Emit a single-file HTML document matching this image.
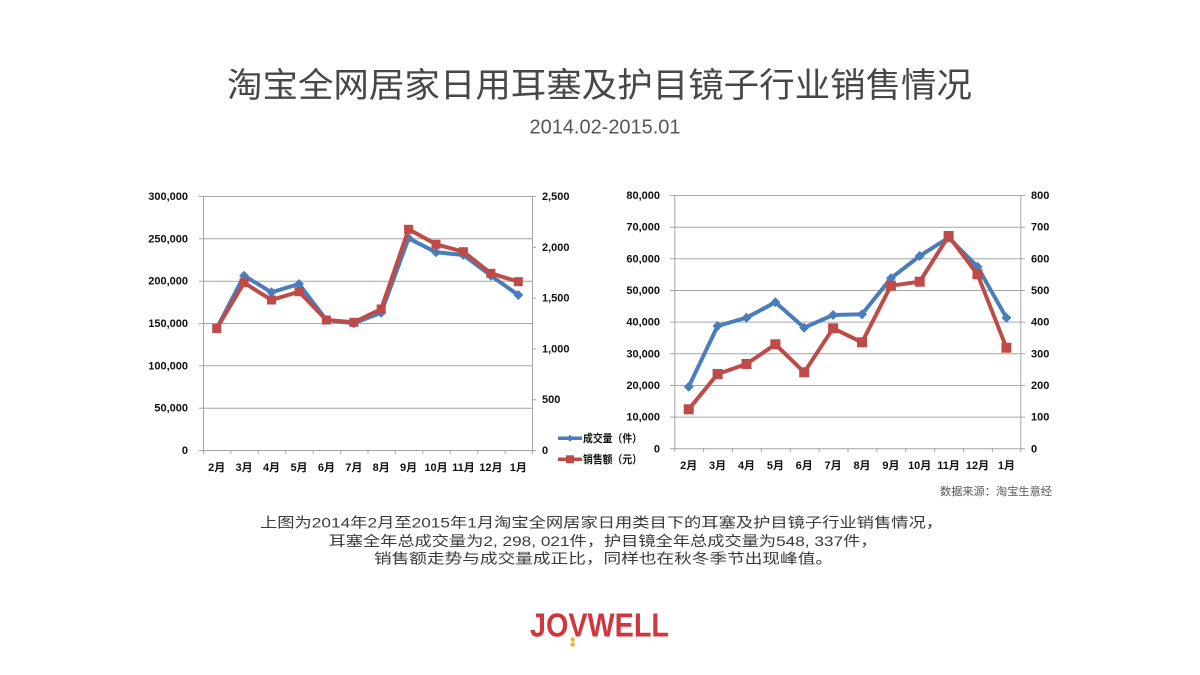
<!DOCTYPE html>
<html><head><meta charset="utf-8"><style>
html,body{margin:0;padding:0;background:#fff;}
svg{display:block;}
.ax{font-family:"Liberation Sans","Noto Sans CJK SC",sans-serif;font-weight:bold;font-size:11px;fill:#111;}
.cj{font-family:"Liberation Sans","Noto Sans CJK SC",sans-serif;}
</style></head><body>
<svg width="1200" height="675" viewBox="0 0 1200 675" xmlns="http://www.w3.org/2000/svg">
<rect width="1200" height="675" fill="#fff"/>
<text class="cj" x="227" y="97" font-size="34" fill="#474747" textLength="745" lengthAdjust="spacingAndGlyphs">淘宝全网居家日用耳塞及护目镜子行业销售情况</text>
<text x="529.5" y="133.3" font-family="Liberation Sans, sans-serif" font-size="20" fill="#555" textLength="151" lengthAdjust="spacingAndGlyphs">2014.02-2015.01</text>

<!-- Chart 1 -->
<g stroke="#a6a6a6" stroke-width="1" fill="none">
<line x1="199" y1="196.5" x2="532" y2="196.5"/>
<line x1="199" y1="238.8" x2="532" y2="238.8"/>
<line x1="199" y1="281.2" x2="532" y2="281.2"/>
<line x1="199" y1="323.5" x2="532" y2="323.5"/>
<line x1="199" y1="365.8" x2="532" y2="365.8"/>
<line x1="199" y1="408.2" x2="532" y2="408.2"/>
<line x1="199" y1="450.5" x2="532" y2="450.5"/>
<line x1="203.5" y1="196" x2="203.5" y2="450"/>
<line x1="532.5" y1="196" x2="532.5" y2="450"/>
<line x1="532" y1="196.5" x2="536" y2="196.5"/>
<line x1="532" y1="247.3" x2="536" y2="247.3"/>
<line x1="532" y1="298.1" x2="536" y2="298.1"/>
<line x1="532" y1="348.9" x2="536" y2="348.9"/>
<line x1="532" y1="399.7" x2="536" y2="399.7"/>
<line x1="532" y1="450.5" x2="536" y2="450.5"/>
<line x1="203.5" y1="450" x2="203.5" y2="454"/><line x1="230.9" y1="450" x2="230.9" y2="454"/><line x1="258.3" y1="450" x2="258.3" y2="454"/><line x1="285.8" y1="450" x2="285.8" y2="454"/><line x1="313.2" y1="450" x2="313.2" y2="454"/><line x1="340.6" y1="450" x2="340.6" y2="454"/><line x1="368" y1="450" x2="368" y2="454"/><line x1="395.4" y1="450" x2="395.4" y2="454"/><line x1="422.8" y1="450" x2="422.8" y2="454"/><line x1="450.3" y1="450" x2="450.3" y2="454"/><line x1="477.7" y1="450" x2="477.7" y2="454"/><line x1="505.1" y1="450" x2="505.1" y2="454"/><line x1="532.5" y1="450" x2="532.5" y2="454"/>
</g>
<g class="ax" text-anchor="end">
<text x="188" y="200">300,000</text><text x="188" y="242.3">250,000</text><text x="188" y="284.7">200,000</text><text x="188" y="327">150,000</text><text x="188" y="369.3">100,000</text><text x="188" y="411.7">50,000</text><text x="188" y="454">0</text>
</g>
<g class="ax">
<text x="542" y="200">2,500</text><text x="542" y="250.8">2,000</text><text x="542" y="301.6">1,500</text><text x="542" y="352.4">1,000</text><text x="542" y="403.2">500</text><text x="542" y="454">0</text>
</g>
<g class="ax" text-anchor="middle">
<text x="216.7" y="471">2月</text><text x="244.1" y="471">3月</text><text x="271.5" y="471">4月</text><text x="299" y="471">5月</text><text x="326.4" y="471">6月</text><text x="353.8" y="471">7月</text><text x="381.2" y="471">8月</text><text x="408.6" y="471">9月</text><text x="436" y="471">10月</text><text x="463.4" y="471">11月</text><text x="490.9" y="471">12月</text><text x="518.3" y="471">1月</text>
</g>
<polyline fill="none" stroke="#4a7ebb" stroke-width="4" stroke-linejoin="round" points="216.7,328.3 244.1,275.7 271.5,292.3 299,284 326.4,320 353.8,323.3 381.2,312.7 408.6,238.3 436,252.3 463.4,255 490.9,275.7 518.3,295"/>
<g fill="#4a7ebb">
<polygon points="216.7,323.3 221.7,328.3 216.7,333.3 211.7,328.3"/><polygon points="244.1,270.7 249.1,275.7 244.1,280.7 239.1,275.7"/><polygon points="271.5,287.3 276.5,292.3 271.5,297.3 266.5,292.3"/><polygon points="299,279 304,284 299,289 294,284"/><polygon points="326.4,315 331.4,320 326.4,325 321.4,320"/><polygon points="353.8,318.3 358.8,323.3 353.8,328.3 348.8,323.3"/><polygon points="381.2,307.7 386.2,312.7 381.2,317.7 376.2,312.7"/><polygon points="408.6,233.3 413.6,238.3 408.6,243.3 403.6,238.3"/><polygon points="436,247.3 441,252.3 436,257.3 431,252.3"/><polygon points="463.4,250 468.4,255 463.4,260 458.4,255"/><polygon points="490.9,270.7 495.9,275.7 490.9,280.7 485.9,275.7"/><polygon points="518.3,290 523.3,295 518.3,300 513.3,295"/>
</g>
<polyline fill="none" stroke="#be4b48" stroke-width="4" stroke-linejoin="round" points="216.7,328.5 244.1,282.7 271.5,300 299,291.7 326.4,320 353.8,322.3 381.2,309 408.6,229.3 436,244.3 463.4,251.7 490.9,273.3 518.3,281.7"/>
<g fill="#be4b48">
<rect x="212.2" y="324" width="9" height="9"/><rect x="239.6" y="278.2" width="9" height="9"/><rect x="267" y="295.5" width="9" height="9"/><rect x="294.5" y="287.2" width="9" height="9"/><rect x="321.9" y="315.5" width="9" height="9"/><rect x="349.3" y="317.8" width="9" height="9"/><rect x="376.7" y="304.5" width="9" height="9"/><rect x="404.1" y="224.8" width="9" height="9"/><rect x="431.5" y="239.8" width="9" height="9"/><rect x="458.9" y="247.2" width="9" height="9"/><rect x="486.4" y="268.8" width="9" height="9"/><rect x="513.8" y="277.2" width="9" height="9"/>
</g>
<!-- legend -->
<line x1="558" y1="438.3" x2="582" y2="438.3" stroke="#4a7ebb" stroke-width="3.5"/>
<polygon points="570,434.8 573.5,438.3 570,441.8 566.5,438.3" fill="#4a7ebb"/>
<line x1="558" y1="459.3" x2="582" y2="459.3" stroke="#be4b48" stroke-width="3.5"/>
<rect x="566" y="455.3" width="8" height="8" fill="#be4b48"/>
<text class="ax" x="583" y="442" font-size="10" textLength="59" lengthAdjust="spacingAndGlyphs">成交量（件）</text>
<text class="ax" x="583" y="463" font-size="10" textLength="59" lengthAdjust="spacingAndGlyphs">销售额（元）</text>

<!-- Chart 2 -->
<g stroke="#a6a6a6" stroke-width="1" fill="none">
<line x1="670" y1="195.5" x2="1025" y2="195.5"/>
<line x1="670" y1="227.2" x2="1025" y2="227.2"/>
<line x1="670" y1="258.8" x2="1025" y2="258.8"/>
<line x1="670" y1="290.5" x2="1025" y2="290.5"/>
<line x1="670" y1="322.1" x2="1025" y2="322.1"/>
<line x1="670" y1="353.8" x2="1025" y2="353.8"/>
<line x1="670" y1="385.5" x2="1025" y2="385.5"/>
<line x1="670" y1="417.1" x2="1025" y2="417.1"/>
<line x1="670" y1="448.8" x2="1025" y2="448.8"/>
<line x1="674.8" y1="195" x2="674.8" y2="448.3"/>
<line x1="1020.8" y1="195" x2="1020.8" y2="448.3"/>
<line x1="674.8" y1="448" x2="674.8" y2="452"/><line x1="703.6" y1="448" x2="703.6" y2="452"/><line x1="732.5" y1="448" x2="732.5" y2="452"/><line x1="761.4" y1="448" x2="761.4" y2="452"/><line x1="790.3" y1="448" x2="790.3" y2="452"/><line x1="819.1" y1="448" x2="819.1" y2="452"/><line x1="848" y1="448" x2="848" y2="452"/><line x1="876.9" y1="448" x2="876.9" y2="452"/><line x1="905.8" y1="448" x2="905.8" y2="452"/><line x1="934.6" y1="448" x2="934.6" y2="452"/><line x1="963.5" y1="448" x2="963.5" y2="452"/><line x1="992.4" y1="448" x2="992.4" y2="452"/><line x1="1020.8" y1="448" x2="1020.8" y2="452"/>
</g>
<g class="ax" text-anchor="end">
<text x="660" y="199">80,000</text><text x="660" y="230.7">70,000</text><text x="660" y="262.3">60,000</text><text x="660" y="294">50,000</text><text x="660" y="325.6">40,000</text><text x="660" y="357.3">30,000</text><text x="660" y="389">20,000</text><text x="660" y="420.6">10,000</text><text x="660" y="452.3">0</text>
</g>
<g class="ax">
<text x="1031" y="199">800</text><text x="1031" y="230.7">700</text><text x="1031" y="262.3">600</text><text x="1031" y="294">500</text><text x="1031" y="325.6">400</text><text x="1031" y="357.3">300</text><text x="1031" y="389">200</text><text x="1031" y="420.6">100</text><text x="1031" y="452.3">0</text>
</g>
<g class="ax" text-anchor="middle">
<text x="688.7" y="469">2月</text><text x="717.6" y="469">3月</text><text x="746.5" y="469">4月</text><text x="775.4" y="469">5月</text><text x="804.2" y="469">6月</text><text x="833.1" y="469">7月</text><text x="862" y="469">8月</text><text x="890.9" y="469">9月</text><text x="919.7" y="469">10月</text><text x="948.6" y="469">11月</text><text x="977.5" y="469">12月</text><text x="1006.4" y="469">1月</text>
</g>
<polyline fill="none" stroke="#4a7ebb" stroke-width="4" stroke-linejoin="round" points="688.7,386.7 717.6,326 746.5,317.7 775.4,302.3 804.2,327.7 833.1,315 862,314.3 890.9,278.3 919.7,256 948.6,237.7 977.5,266.7 1006.4,317.7"/>
<g fill="#4a7ebb">
<polygon points="688.7,381.7 693.7,386.7 688.7,391.7 683.7,386.7"/><polygon points="717.6,321 722.6,326 717.6,331 712.6,326"/><polygon points="746.5,312.7 751.5,317.7 746.5,322.7 741.5,317.7"/><polygon points="775.4,297.3 780.4,302.3 775.4,307.3 770.4,302.3"/><polygon points="804.2,322.7 809.2,327.7 804.2,332.7 799.2,327.7"/><polygon points="833.1,310 838.1,315 833.1,320 828.1,315"/><polygon points="862,309.3 867,314.3 862,319.3 857,314.3"/><polygon points="890.9,273.3 895.9,278.3 890.9,283.3 885.9,278.3"/><polygon points="919.7,251 924.7,256 919.7,261 914.7,256"/><polygon points="948.6,232.7 953.6,237.7 948.6,242.7 943.6,237.7"/><polygon points="977.5,261.7 982.5,266.7 977.5,271.7 972.5,266.7"/><polygon points="1006.4,312.7 1011.4,317.7 1006.4,322.7 1001.4,317.7"/>
</g>
<polyline fill="none" stroke="#be4b48" stroke-width="4" stroke-linejoin="round" points="688.7,409.3 717.6,374 746.5,364 775.4,344.3 804.2,372.3 833.1,328.3 862,342.3 890.9,285.7 919.7,281.7 948.6,236 977.5,274.3 1006.4,347.7"/>
<g fill="#be4b48">
<rect x="683.7" y="404.3" width="10" height="10"/><rect x="712.6" y="369" width="10" height="10"/><rect x="741.5" y="359" width="10" height="10"/><rect x="770.4" y="339.3" width="10" height="10"/><rect x="799.2" y="367.3" width="10" height="10"/><rect x="828.1" y="323.3" width="10" height="10"/><rect x="857" y="337.3" width="10" height="10"/><rect x="885.9" y="280.7" width="10" height="10"/><rect x="914.7" y="276.7" width="10" height="10"/><rect x="943.6" y="231" width="10" height="10"/><rect x="972.5" y="269.3" width="10" height="10"/><rect x="1001.4" y="342.7" width="10" height="10"/>
</g>
<text class="cj" x="940" y="495" font-size="11" fill="#555" textLength="112" lengthAdjust="spacingAndGlyphs">数据来源：淘宝生意经</text>

<!-- paragraph -->
<g class="cj" font-size="14" fill="#3a3a3a">
<text x="260" y="527.5" textLength="683" lengthAdjust="spacingAndGlyphs">上图为2014年2月至2015年1月淘宝全网居家日用类目下的耳塞及护目镜子行业销售情况，</text>
<text x="328.5" y="546" textLength="549" lengthAdjust="spacingAndGlyphs">耳塞全年总成交量为2, 298, 021件，护目镜全年总成交量为548, 337件，</text>
<text x="374" y="563.5" textLength="459" lengthAdjust="spacingAndGlyphs">销售额走势与成交量成正比，同样也在秋冬季节出现峰值。</text>
</g>

<!-- logo -->
<text x="530" y="636.7" font-family="Liberation Sans, sans-serif" font-weight="bold" font-size="33" fill="#d0363e" textLength="139" lengthAdjust="spacingAndGlyphs">JOVWELL</text>
<circle cx="572.7" cy="639.5" r="2.2" fill="#f0b030"/>
<circle cx="572.7" cy="644.5" r="2.2" fill="#f0b030"/>
</svg>
</body></html>
